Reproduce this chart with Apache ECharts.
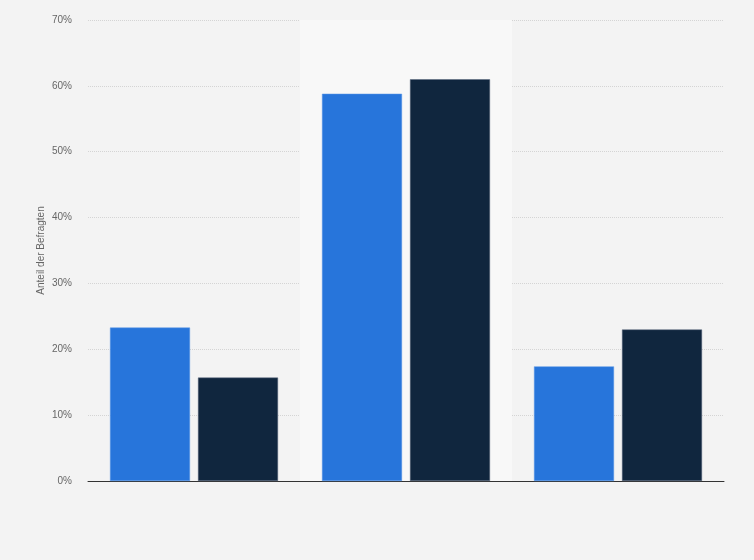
<!DOCTYPE html>
<html>
<head>
<meta charset="utf-8">
<script src="https://cdn.jsdelivr.net/npm/echarts@6/dist/echarts.min.js"></script>
<style>
html,body{margin:0;padding:0;background:#f3f3f3;}
#chart{width:754px;height:560px;}
</style>
</head>
<body>
<div id="chart"></div>
<script>
const categories = ['', ' ', '  '];
const seriesA = [23.3, 58.8, 17.4];
const seriesB = [15.7, 61.0, 23.0];
const yTicks = [0, 10, 20, 30, 40, 50, 60, 70];

const chart = echarts.init(document.getElementById('chart'));
chart.setOption({
  backgroundColor: '#f3f3f3',
  animation: false,
  grid: { left: 88, right: 30, top: 20, bottom: 79, containLabel: false },
  xAxis: {
    type: 'category',
    data: categories,
    axisLine: { show: true, lineStyle: { color: '#333', width: 1 } },
    axisTick: { show: false },
    axisLabel: { show: false },
    splitArea: { show: true, areaStyle: { color: ['rgba(0,0,0,0)', '#f8f8f8'] } }
  },
  yAxis: {
    type: 'value',
    min: yTicks[0],
    max: yTicks[yTicks.length - 1],
    interval: 10,
    name: 'Anteil der Befragten',
    nameLocation: 'middle',
    nameGap: 42,
    nameMoveOverlap: false,
    nameTextStyle: { color: '#666', fontSize: 10, fontFamily: 'Liberation Sans, Arial, sans-serif' },
    axisLine: { show: false },
    axisTick: { show: false },
    axisLabel: { formatter: '{value}%', color: '#666', fontSize: 10, margin: 16, fontFamily: 'Liberation Sans, Arial, sans-serif' },
    splitLine: { show: true, lineStyle: { color: '#d4d4d4', type: [1, 1], width: 1 } }
  },
  series: [
    {
      type: 'bar',
      data: seriesA,
      barWidth: 80,
      barGap: '10%',
      itemStyle: { color: '#2775db', borderColor: '#5b97e6', borderWidth: 0.5 }
    },
    {
      type: 'bar',
      data: seriesB,
      barWidth: 80,
      itemStyle: { color: '#10263e', borderColor: '#56657a', borderWidth: 0.5 }
    }
  ]
});
</script>
</body>
</html>
